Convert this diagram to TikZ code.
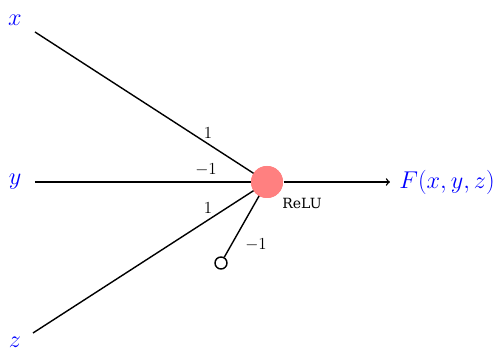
\documentclass[tikz,border=0pt]{standalone}
\usepackage{fontspec}
\setmainfont{DejaVu Serif}
\tikzset{
  inp/.style={text=blue,font=\LARGE},
  wt/.style={font=\large},
  relu/.style={circle,fill=red!50,minimum size=0.8cm,inner sep=0pt},
  bias/.style={circle,draw,line width=1pt,fill=white,minimum size=0.3cm,inner sep=0pt},
}
\begin{document}
\begin{tikzpicture}[line width=1pt]
\useasboundingbox (0,0) rectangle (12.6,8.75);
% neuron
\node[relu] (n) at (6.675,4.2) {};
\node[font=\normalsize] (r) at (7.55,3.675) {ReLU};
% inputs
\node[inp] (x) at (0.375,8.25) {$x$};
\node[inp] (y) at (0.375,4.2) {$y$};
\node[inp] (z) at (0.375,0.2) {$z$};
\coordinate (xs) at (0.875,7.95);
\coordinate (ys) at (0.875,4.2);
\coordinate (zs) at (0.825,0.425);
\draw (xs) -- (n.center);
\draw (ys) -- (n.center);
\draw (zs) -- (n.center);
% bias
\node[bias] (b) at (5.525,2.175) {};
\draw (b) -- (n.center);
\node[relu] at (n) {};
% weights
\node[wt] (w1) at (5.2,5.425) {$1$};
\node[wt] (w2) at (5.15,4.5) {$-1$};
\node[wt] (w3) at (5.2,3.55) {$1$};
\node[wt] (w4) at (6.4,2.625) {$-1$};
% output
\node[inp,anchor=west] (f) at (9.85,4.2) {$F(x,y,z)$};
\draw[->,shorten >=0.1cm] (n) -- (f);
\end{tikzpicture}
\end{document}
